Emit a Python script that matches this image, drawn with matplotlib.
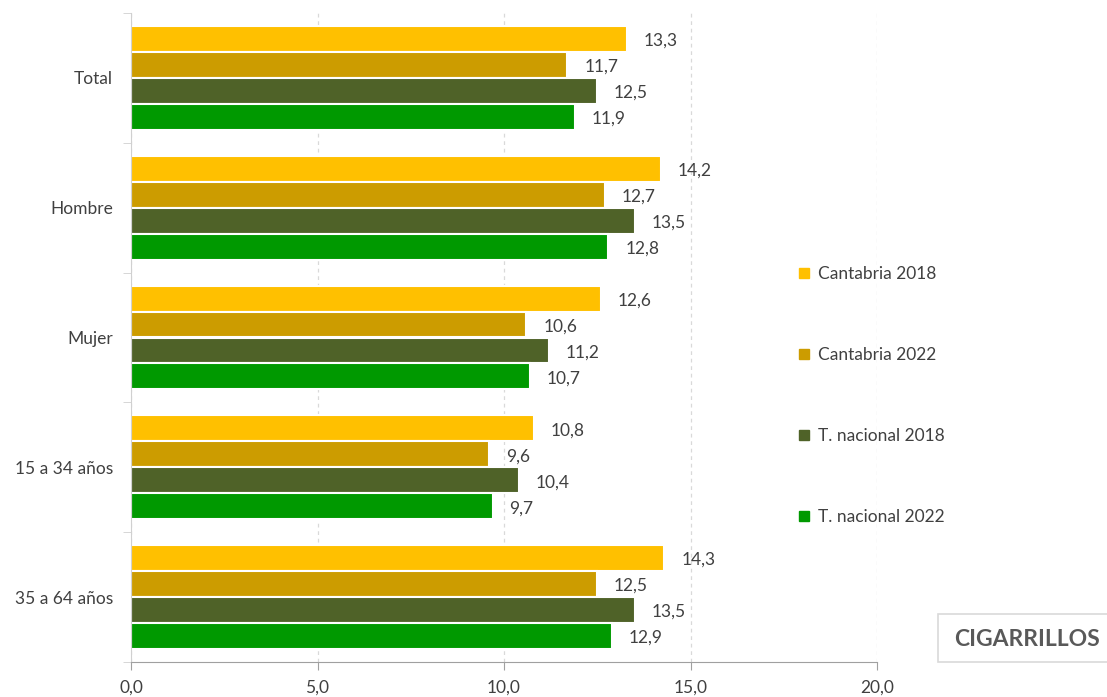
import matplotlib.pyplot as plt
import numpy as np
from matplotlib.lines import Line2D
from matplotlib.patches import Rectangle

plt.rcParams['font.family'] = ['Lato', 'DejaVu Sans']

categorias = ['Total', 'Hombre', 'Mujer', '15 a 34 años', '35 a 64 años']
series = ['Cantabria 2018', 'Cantabria 2022', 'T. nacional 2018', 'T. nacional 2022']
cantabria_2018 = [13.3, 14.2, 12.6, 10.8, 14.3]
cantabria_2022 = [11.7, 12.7, 10.6, 9.6, 12.5]
nacional_2018 = [12.5, 13.5, 11.2, 10.4, 13.5]
nacional_2022 = [11.9, 12.8, 10.7, 9.7, 12.9]
colores = ['#FFC000', '#CC9C00', '#4F6228', '#009900']

valores = [cantabria_2018, cantabria_2022, nacional_2018, nacional_2022]
gris = '#404040'
W, H = 1107, 697

fig = plt.figure(figsize=(11.07, 6.97), dpi=100)
ax = fig.add_axes([131 / W, 35 / H, 746 / W, 649 / H])

y = np.arange(len(categorias))
alto = 0.2
for i, (serie, vals, col) in enumerate(zip(series, valores, colores)):
    pos = y + (i - 1.5) * alto
    ax.barh(pos, vals, height=alto, color=col, edgecolor='white', linewidth=1.5, label=serie)
    for p, v in zip(pos, vals):
        ax.text(v + 0.45, p + 0.015, f'{v:.1f}'.replace('.', ','), va='center', ha='left',
                fontsize=12.5, color=gris)

ax.set_xlim(0, 20)
ax.set_ylim(len(categorias) - 0.5, -0.5)
ax.set_xticks(np.arange(0, 21, 5))
ax.set_xticklabels([f'{t:.1f}'.replace('.', ',') for t in np.arange(0, 21, 5)],
                   fontsize=12.5, color=gris)
ax.set_yticks(y)
ax.set_yticklabels(categorias, fontsize=12.5, color=gris)
ax.tick_params(axis='y', length=0, pad=13)
ax.set_yticks(np.arange(-0.5, len(categorias)), minor=True)
ax.tick_params(axis='y', which='minor', length=6, color='#D0D0D0')
ax.tick_params(axis='x', length=6, color='#A0A0A0', pad=7)

ax.grid(axis='x', color='#D9D9D9', linestyle=(0, (3, 3)), linewidth=0.9)
ax.set_axisbelow(True)
for s in ['top', 'right']:
    ax.spines[s].set_visible(False)
ax.spines['left'].set_color('#D0D0D0')
ax.spines['bottom'].set_color('#A0A0A0')

handles = [Line2D([], [], marker='s', linestyle='none', markersize=7,
                  markerfacecolor=c, markeredgecolor=c) for c in colores]
fig.legend(handles, series, loc='upper left', bbox_to_anchor=(783 / W, 1 - 250 / H),
           frameon=False, fontsize=12.5, labelspacing=3.75, handlelength=0.6,
           handletextpad=0.5, labelcolor=gris)

fig.patches.append(Rectangle((938 / W, 1 - 662 / H), 190 / W, 48 / H,
                             transform=fig.transFigure, facecolor='white',
                             edgecolor='#D9D9D9', linewidth=1.2))
fig.text(1027 / W, 1 - 639 / H, 'CIGARRILLOS', fontsize=16.5, fontweight='bold',
         color='#595959', ha='center', va='center')

fig.savefig('out.png', dpi=100)
